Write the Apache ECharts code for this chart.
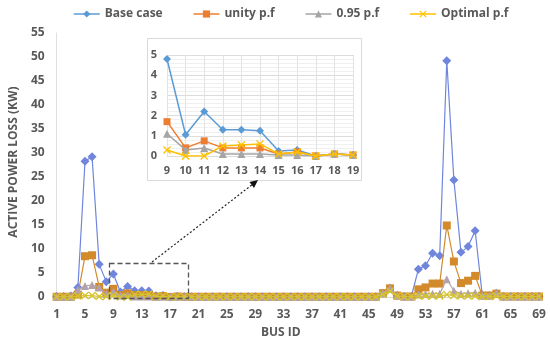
<!DOCTYPE html>
<html><head><meta charset="utf-8">
<script src="https://cdn.jsdelivr.net/npm/echarts@6/dist/echarts.min.js"></script>
<style>html,body{margin:0;padding:0;background:#fff}#c{width:550px;height:348px}</style>
</head><body><div id="c"></div>
<script>
// Bus IDs 1..69
var buses = [];
for (var i = 1; i <= 69; i++) buses.push(String(i));

var baseCase = [0.1,0.1,0.2,2.0,28.3,29.2,6.8,3.2,4.8,1.05,2.2,1.3,1.3,1.25,0.25,0.3,0.0,0.1,0.05,
  0.05,0.05,0.05,0.05,0.05,0.05,0.05,0.05,0.05,0.05,0.05,0.05,0.05,0.05,0.05,0.05,0.05,0.05,0.05,0.05,0.05,0.05,0.05,0.05,0.05,0.05,0.05,
  0.8,1.8,0.3,0.1,0.1,5.8,6.5,9.1,8.6,49.2,24.4,9.3,10.5,13.8,0.4,0.3,0.8,0.1,0.1,0.1,0.1,0.1,0.1];
var unityPf = [0.05,0.05,0.05,0.5,8.5,8.7,2.1,0.9,1.7,0.4,0.75,0.4,0.4,0.4,0.1,0.2,0.0,0.1,0.05,
  0.05,0.05,0.05,0.05,0.05,0.05,0.05,0.05,0.05,0.05,0.05,0.05,0.05,0.05,0.05,0.05,0.05,0.05,0.05,0.05,0.05,0.05,0.05,0.05,0.05,0.05,0.05,
  0.8,1.8,0.3,0.1,0.1,1.6,2.0,2.8,2.8,14.9,7.4,2.9,3.4,4.4,0.3,0.3,0.7,0.1,0.1,0.1,0.1,0.1,0.1];
var pf095 = [0.05,0.05,0.05,1.5,2.3,2.5,2.0,0.6,1.1,0.3,0.4,0.1,0.1,0.1,0.05,0.05,0.0,0.1,0.05,
  0.05,0.05,0.05,0.05,0.05,0.05,0.05,0.05,0.05,0.05,0.05,0.05,0.05,0.05,0.05,0.05,0.05,0.05,0.05,0.05,0.05,0.05,0.05,0.05,0.05,0.05,0.05,
  0.8,1.8,0.3,0.1,0.1,0.5,0.6,0.7,0.7,3.7,1.3,0.7,0.8,0.9,0.3,0.3,0.9,0.1,0.1,0.1,0.1,0.1,0.1];
var optimalPf = [0.05,0.05,0.05,0.2,0.3,0.3,0.1,0.1,0.3,0.0,0.0,0.5,0.55,0.6,0.1,0.2,0.0,0.1,0.05,
  0.05,0.05,0.05,0.05,0.05,0.05,0.05,0.05,0.05,0.05,0.05,0.05,0.05,0.05,0.05,0.05,0.05,0.05,0.05,0.05,0.05,0.05,0.05,0.05,0.05,0.05,0.05,
  0.5,1.2,0.2,0.1,0.1,0.2,0.2,0.2,0.2,0.5,0.3,0.2,0.2,0.2,0.1,0.1,0.2,0.1,0.1,0.1,0.1,0.1,0.1];

var seriesNames = ['Base case','unity p.f','0.95 p.f','Optimal p.f'];
var yTicks = {min:0, max:55, interval:5};
var insetFrom = 9, insetTo = 19;

var mainColors = ['#6f86dc','#d28a2a','#b4a2aa','#d6c42c'];
var stdColors = ['#5B9BD5','#ED7D31','#A5A5A5','#FFC000'];
var xPath = 'path://M0,1.2L1.2,0L5,3.8L8.8,0L10,1.2L6.2,5L10,8.8L8.8,10L5,6.2L1.2,10L0,8.8L3.8,5Z';
var symbols = ['diamond','rect','triangle', xPath];
var sizes = [8,7,8,8];
var mainSizes = [9,8,8,8];
var allData = [baseCase, unityPf, pf095, optimalPf];

var insetCats = buses.slice(insetFrom-1, insetTo);
var txt = '#595959';
var font = 'Open Sans';

var series = [];
allData.forEach(function(d, k){
  series.push({name: seriesNames[k], type:'line', xAxisIndex:0, yAxisIndex:0, data:d,
    symbol:symbols[k], symbolSize:mainSizes[k], z:2+k, showAllSymbol:true,
    lineStyle:{color:mainColors[k], width:1.2}, itemStyle:{color:mainColors[k]}});
});
allData.forEach(function(d, k){
  series.push({name: seriesNames[k], type:'line', xAxisIndex:1, yAxisIndex:1, data:d.slice(insetFrom-1, insetTo),
    symbol:symbols[k], symbolSize:sizes[k], z:12+k, showAllSymbol:true,
    lineStyle:{color:stdColors[k], width:1.5}, itemStyle:{color:stdColors[k]}});
});

var chart = echarts.init(document.getElementById('c'), null, {renderer:'canvas'});
chart.setOption({
  animation:false,
  backgroundColor:'#fff',
  textStyle:{fontFamily:font},
  legend:{
    left:68, top:3, itemWidth:26, itemHeight:9, itemGap:30,
    textStyle:{color:txt, fontSize:12, fontWeight:'bold', fontFamily:font},
    data: seriesNames.map(function(n,k){return {name:n,
      itemStyle:{color:stdColors[k]}, lineStyle:{color:stdColors[k], width:1.5}};})
  },
  grid:[
    {left:53, right:11, top:33, bottom:51},
    {left:167, right:197, top:55, bottom:192, show:false}
  ],
  xAxis:[
    {type:'category', gridIndex:0, data:buses, boundaryGap:false,
     name:'BUS ID', nameLocation:'middle', nameGap:30,
     nameTextStyle:{color:txt, fontSize:12, fontWeight:'bold', padding:[0,34,0,0]},
     axisLine:{show:true, lineStyle:{color:'#d9d9d9'}}, axisTick:{show:false},
     axisLabel:{interval:3, color:txt, fontSize:12, fontWeight:'bold', margin:12}},
    {type:'category', gridIndex:1, data:insetCats, boundaryGap:false,
     axisLine:{show:false}, axisTick:{show:false},
     splitLine:{show:true, lineStyle:{color:'#e3e3e3'}},
     axisLabel:{interval:0, color:txt, fontSize:11, fontWeight:'bold', margin:9}}
  ],
  yAxis:[
    {type:'value', gridIndex:0, min:yTicks.min, max:yTicks.max, interval:yTicks.interval,
     name:'ACTIVE POWER LOSS (KW)', nameLocation:'middle', nameGap:34,
     nameTextStyle:{color:txt, fontSize:12, fontWeight:'bold', padding:[0,0,0,6]},
     axisLine:{show:true, lineStyle:{color:'#e0e0e0'}}, axisTick:{show:false}, splitLine:{show:false},
     axisLabel:{color:txt, fontSize:12, fontWeight:'bold', margin:12}},
    {type:'value', gridIndex:1, min:0, max:5, interval:1,
     axisLine:{show:false}, axisTick:{show:false},
     splitLine:{show:true, lineStyle:{color:'#dcdcdc'}},
     minorTick:{show:false, splitNumber:5},
     minorSplitLine:{show:true, lineStyle:{color:'#f0f0f0'}},
     axisLabel:{color:txt, fontSize:11, fontWeight:'bold', margin:10}}
  ],
  graphic:[
    {type:'rect', shape:{x:147.5, y:38.5, width:214, height:142}, z:-1,
     style:{fill:'#fff', stroke:'#d9d9d9', lineWidth:1}},
    {type:'rect', shape:{x:109.5, y:263.5, width:79, height:35}, z:50,
     style:{fill:null, stroke:'#555', lineWidth:1.3, lineDash:[5,3]}},
    {type:'line', shape:{x1:152, y1:262, x2:253, y2:184}, z:50,
     style:{stroke:'#222', lineWidth:1.2, lineDash:[2,2]}},
    {type:'polygon', shape:{points:[[258,180],[254,188],[249.5,182]]}, z:50,
     style:{fill:'#111'}}
  ],
  series:series
});
</script></body></html>
